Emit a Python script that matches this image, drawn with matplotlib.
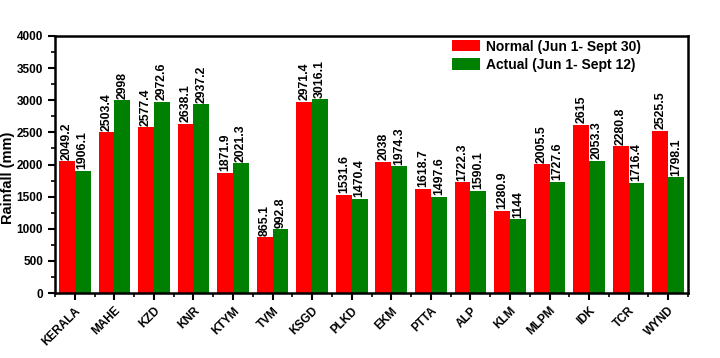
import numpy as np
import matplotlib
matplotlib.use("Agg")
import matplotlib.pyplot as plt
from matplotlib.ticker import MultipleLocator

plt.rcParams['font.family'] = ['Liberation Sans', 'DejaVu Sans']
plt.rcParams['font.weight'] = 'bold'

districts = ["KERALA", "MAHE", "KZD", "KNR", "KTYM", "TVM", "KSGD", "PLKD",
             "EKM", "PTTA", "ALP", "KLM", "MLPM", "IDK", "TCR", "WYND"]
normal = [2049.2, 2503.4, 2577.4, 2638.1, 1871.9, 865.1, 2971.4, 1531.6,
          2038, 1618.7, 1722.3, 1280.9, 2005.5, 2615, 2280.8, 2525.5]
actual = [1906.1, 2998, 2972.6, 2937.2, 2021.3, 992.8, 3016.1, 1470.4,
          1974.3, 1497.6, 1590.1, 1144, 1727.6, 2053.3, 1716.4, 1798.1]
normal_lbl = ["2049.2", "2503.4", "2577.4", "2638.1", "1871.9", "865.1", "2971.4", "1531.6",
              "2038", "1618.7", "1722.3", "1280.9", "2005.5", "2615", "2280.8", "2525.5"]
actual_lbl = ["1906.1", "2998", "2972.6", "2937.2", "2021.3", "992.8", "3016.1", "1470.4",
              "1974.3", "1497.6", "1590.1", "1144", "1727.6", "2053.3", "1716.4", "1798.1"]

fig = plt.figure(figsize=(7.2, 3.58), dpi=100)
ax = fig.add_axes([55/720, 1 - 293/358, 633/720, 257/358])

x = np.arange(len(districts))
w = 0.4
ax.bar(x - w/2, normal, w, color='#ff0000', label='Normal (Jun 1- Sept 30)')
ax.bar(x + w/2, actual, w, color='#008000', label='Actual (Jun 1- Sept 12)')

# value labels on top of each bar
for xi, v, t in zip(x, normal, normal_lbl):
    ax.text(xi - w/2, v + 25, t, rotation=90, ha='center', va='bottom', fontsize=8.8, fontweight='bold')
for xi, v, t in zip(x, actual, actual_lbl):
    ax.text(xi + w/2, v + 25, t, rotation=90, ha='center', va='bottom', fontsize=8.8, fontweight='bold')

ax.set_xlim(-0.5, len(districts) - 0.5)
ax.set_ylim(0, 4000)
ax.yaxis.set_major_locator(MultipleLocator(500))
ax.yaxis.set_minor_locator(MultipleLocator(250))
ax.set_xticks(x)
ax.set_xticks(np.arange(-0.5, len(districts), 1), minor=True)
ax.set_xticklabels(districts, rotation=45, ha='right', rotation_mode='anchor', fontsize=8.5, fontweight='bold')
ax.tick_params(axis='both', which='major', direction='out', length=5, width=1.5, labelsize=8.5)
ax.tick_params(axis='both', which='minor', direction='out', length=3, width=1.2)
for lab in ax.get_yticklabels():
    lab.set_fontweight('bold')
for s in ax.spines.values():
    s.set_linewidth(1.8)
ax.set_ylabel("Rainfall (mm)", fontsize=10.5, fontweight='bold')
ax.yaxis.set_label_coords(-40/633, 0.45)

ax.legend(loc='upper right', bbox_to_anchor=(0.945, 1.035), frameon=False,
          handlelength=2.0, handleheight=0.9, handletextpad=0.4, labelspacing=0.3,
          prop={'weight': 'bold', 'size': 10})

fig.savefig("out.png", dpi=100)
